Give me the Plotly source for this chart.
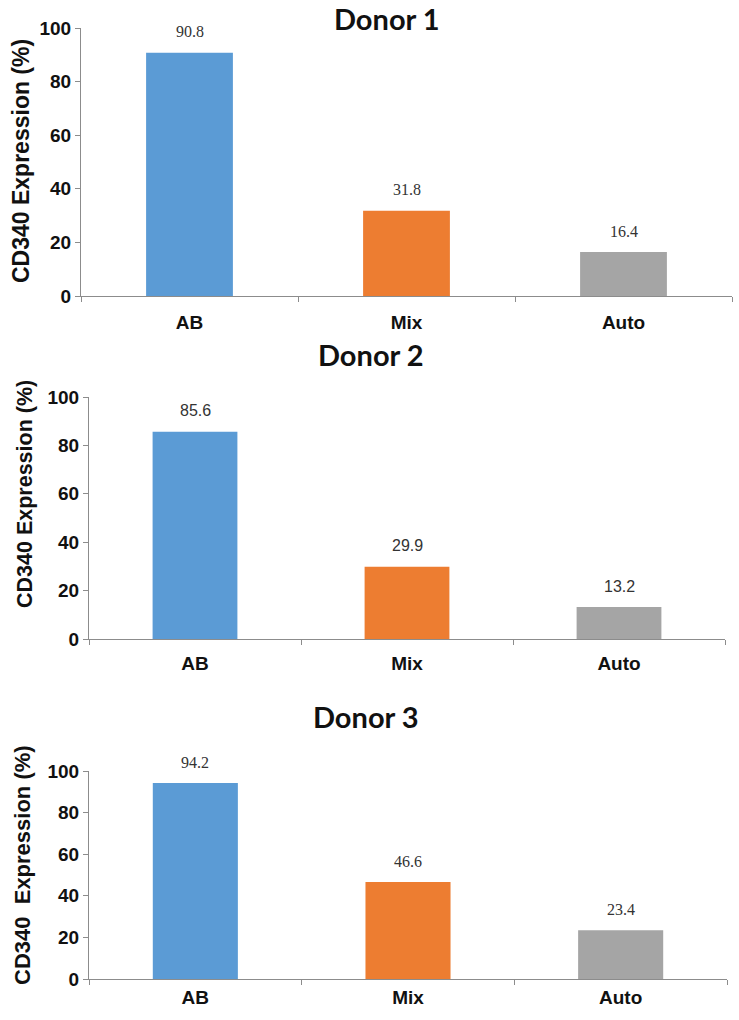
import plotly.graph_objects as go

categories = ["AB", "Mix", "Auto"]
donor1 = [90.8, 31.8, 16.4]
donor2 = [85.6, 29.9, 13.2]
donor3 = [94.2, 46.6, 23.4]
titles = ["Donor 1", "Donor 2", "Donor 3"]
ytitles = ["CD340 Expression (%)", "CD340 Expression (%)", "CD340\u00a0\u00a0Expression (%)"]
yticks = [0, 20, 40, 60, 80, 100]

colors = ["#5B9BD5", "#ED7D31", "#A5A5A5"]
W, H = 739, 1020

# pixel geometry of each panel: x-left, x-right, y(0), y(100)
panels = [
    dict(x0=81, x1=732, yb=296, yt=28, label_font="Liberation Serif", title_y=18, title_x=387,
         ytitle_x=21, ytitle_y=161, ytitle_size=23, xstand=9),
    dict(x0=89, x1=725, yb=639, yt=397, label_font="Liberation Sans", title_y=354, title_x=371,
         ytitle_x=25, ytitle_y=494, ytitle_size=21.5, xstand=7),
    dict(x0=89, x1=727, yb=979, yt=771, label_font="Liberation Serif", title_y=716, title_x=366,
         ytitle_x=22, ytitle_y=865, ytitle_size=22, xstand=1),
]
series = [donor1, donor2, donor3]

fig = go.Figure()
annotations = []
layout = {}
for i, (vals, p) in enumerate(zip(series, panels)):
    k = "" if i == 0 else str(i + 1)
    fig.add_trace(go.Bar(
        x=categories, y=vals, width=0.4,
        marker=dict(color=colors, line=dict(width=0)),
        xaxis="x" + k, yaxis="y" + k, showlegend=False,
    ))
    layout["xaxis" + k] = dict(
        domain=[p["x0"] / W, p["x1"] / W], anchor="y" + k, automargin=False,
        showline=True, linecolor="#8c8c8c", linewidth=1,
        ticks="outside", tickson="boundaries", ticklen=5, tickcolor="#8c8c8c",
        tickfont=dict(family="Liberation Sans", size=19, color="#111111", weight="bold"),
        ticklabelstandoff=p["xstand"],
        showgrid=False, zeroline=False, fixedrange=True,
    )
    layout["yaxis" + k] = dict(
        domain=[1 - p["yb"] / H, 1 - p["yt"] / H], anchor="x" + k, automargin=False,
        range=[0, 100], tickvals=yticks,
        showline=True, linecolor="#8c8c8c", linewidth=1,
        ticks="outside", ticklen=5, tickcolor="#8c8c8c",
        tickfont=dict(family="Liberation Sans", size=19, color="#111111", weight="bold"),
        showgrid=False, zeroline=False, fixedrange=True,
    )
    for c, v in zip(categories, vals):
        annotations.append(dict(
            x=c, y=v, xref="x" + k, yref="y" + k, text=f"{v:.1f}", showarrow=False,
            yanchor="middle", yshift=21,
            font=dict(family=p["label_font"], size=16, color="#333333"),
        ))
    annotations.append(dict(
        x=p["title_x"] / W, y=1 - p["title_y"] / H, xref="paper", yref="paper",
        text=titles[i], showarrow=False, xanchor="center", yanchor="middle",
        font=dict(family="Lato", size=29, color="#111111", weight="bold"),
    ))
    annotations.append(dict(
        x=p["ytitle_x"] / W, y=1 - p["ytitle_y"] / H, xref="paper", yref="paper",
        text=ytitles[i], showarrow=False, textangle=-90, xanchor="center", yanchor="middle",
        font=dict(family="Liberation Sans", size=p["ytitle_size"], color="#111111", weight="bold"),
    ))

fig.update_layout(
    width=W, height=H, margin=dict(l=0, r=0, t=0, b=0),
    paper_bgcolor="white", plot_bgcolor="white",
    annotations=annotations, bargap=0.6, **layout,
)
fig.write_html("out.html", config={"displayModeBar": False},
               post_script="document.body.style.margin='0';")
